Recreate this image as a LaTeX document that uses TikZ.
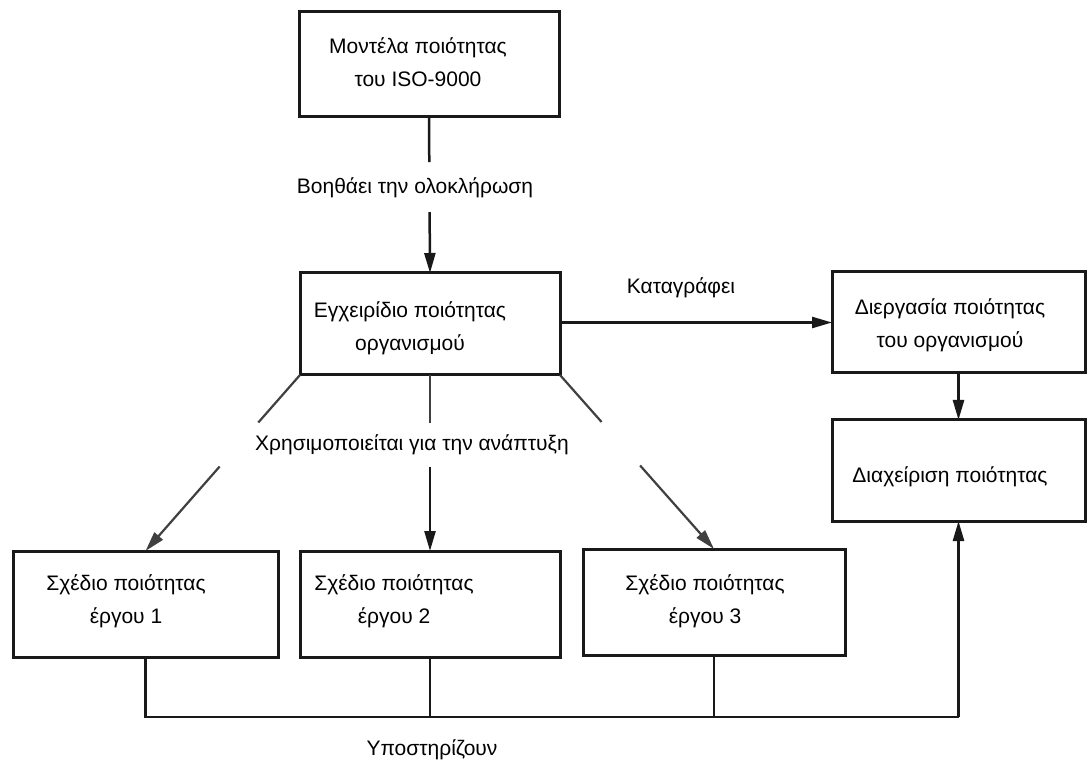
\documentclass[tikz,border=0pt]{standalone}
\usepackage{fontspec}
\setmainfont{Liberation Sans}
\usetikzlibrary{arrows.meta,calc}
\begin{document}
\begin{tikzpicture}[x=1pt,y=-1pt,
  box/.style={draw=black!90, line width=3pt, minimum width=#1, inner sep=0pt, outer sep=0pt},
  txt/.style={align=center, font=\fontsize{21}{33}\selectfont, inner sep=0pt},
  lbl/.style={font=\fontsize{21}{25}\selectfont, inner xsep=0pt, outer sep=0pt},
  conn/.style={draw=black!90, line width=2.5pt},
  diag/.style={draw=black!75, line width=2.2pt},
  arr/.style={-{Triangle[length=20pt,width=11pt]}}]
\useasboundingbox (0,0) rectangle (1088,767);

% boxes
\node[box=260pt, minimum height=105pt] (top) at (429,64.5) {};
\node[box=260pt, minimum height=102pt] (mid) at (430,324) {};
\node[box=253pt, minimum height=101pt] (dp)  at (958.5,322.5) {};
\node[box=253pt, minimum height=101pt] (dm)  at (958.5,470.5) {};
\node[box=265pt, minimum height=106pt] (p1)  at (145.5,604) {};
\node[box=260pt, minimum height=106pt] (p2)  at (430,604) {};
\node[box=262pt, minimum height=106pt] (p3)  at (714,602) {};

% box texts
\node[txt] (topT) at (418,62)  {Μοντέλα ποιότητας\\του ISO-9000};
\node[txt] (midT) at (410,328) {Εγχειρίδιο ποιότητας\\οργανισμού};
\node[txt] (dpT)  at (950,325) {Διεργασία ποιότητας\\του οργανισμού};
\node[txt] (dmT)  at (950,477) {Διαχείριση ποιότητας};
\node[txt] (p1T)  at (126,601) {Σχέδιο ποιότητας\\έργου 1};
\node[txt] (p2T)  at (394,601) {Σχέδιο ποιότητας\\έργου 2};
\node[txt] (p3T)  at (705,601) {Σχέδιο ποιότητας\\έργου 3};

% connector labels
\node[lbl] (helpT) at (415,188) {Βοηθάει την ολοκλήρωση};
\node[lbl] (logT)  at (681,288) {Καταγράφει};
\node[lbl] (useT)  at (412,445) {Χρησιμοποιείται για την ανάπτυξη};
\node[lbl] (supT)  at (432,750) {Υποστηρίζουν};

% top model -> manual
\coordinate (h1) at ($(top.south)!0.29!(mid.north)$);
\coordinate (h2) at ($(top.south)!0.61!(mid.north)$);
\draw[conn] (top.south) -- (h1);
\draw[conn,arr] (h2) -- (mid.north);

% manual -> process
\draw[conn,arr] (dp.west -| mid.east) -- (dp.west);

% process -> management
\draw[conn,arr] (dp.south) -- (dm.north);

% manual -> project plans
\coordinate (a1) at ($(mid.south west)!0.27!(p1.north)$);
\coordinate (a2) at ($(mid.south west)!0.52!(p1.north)$);
\draw[diag] (mid.south west) -- (a1);
\draw[diag,arr] (a2) -- (p1.north);

\coordinate (b1) at ($(mid.south)!0.27!(p2.north)$);
\coordinate (b2) at ($(mid.south)!0.52!(p2.north)$);
\draw[diag] (mid.south) -- (b1);
\draw[conn,arr] (b2) -- (p2.north);

\coordinate (c1) at ($(mid.south east)!0.27!(p3.north)$);
\coordinate (c2) at ($(mid.south east)!0.52!(p3.north)$);
\draw[diag] (mid.south east) -- (c1);
\draw[diag,arr] (c2) -- (p3.north);

% project plans support quality management
\coordinate (bus) at (958.5,717);
\draw[conn] (p1.south) |- (bus);
\draw[conn,arr] (bus) -- (dm.south);
\draw[conn] (p2.south) -- (p2.south |- bus);
\draw[conn] (p3.south) -- (p3.south |- bus);
\end{tikzpicture}
\end{document}
